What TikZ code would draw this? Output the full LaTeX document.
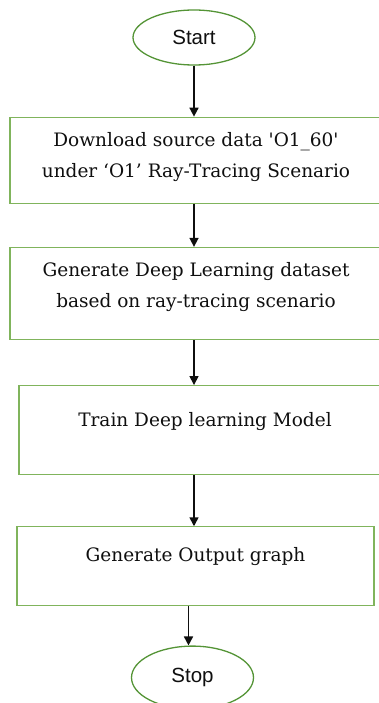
\documentclass[tikz,border=0pt]{standalone}
\usepackage{fontspec}
\setmainfont{DejaVu Serif}
\setsansfont{Liberation Sans}
\usepackage{tikz}
\usetikzlibrary{shapes.geometric, arrows.meta, positioning}
\definecolor{boxgreen}{RGB}{128,180,92}
\definecolor{ovalgreen}{RGB}{84,148,54}
\definecolor{mydark}{RGB}{15,15,15}
\tikzset{
  terminal/.style={ellipse, draw=ovalgreen, fill=white, line width=1.3pt,
    minimum width=122pt, minimum height=55pt, inner sep=0pt,
    font=\sffamily\fontsize{20.5}{24}\selectfont, text=mydark},
  process/.style={rectangle, draw=boxgreen, fill=white, line width=1.2pt,
    align=center, inner sep=0pt, text=mydark,
    font=\fontsize{18.5}{31}\selectfont},
  arrow/.style={-{Triangle[length=9pt,width=9pt]}, line width=1.6pt, color=mydark}
}

\begin{document}
\begin{tikzpicture}[x=1pt, y=1pt, node distance=45pt]
  \useasboundingbox (0,0) rectangle (379,-703);

  \node[terminal] (start) at (194,-37.5) {Start};
  % text depth lifts the label a little above the box centre
  \node[process, minimum width=372pt, minimum height=86pt, text depth=11pt,
    below=51pt of start, xshift=2pt] (dl)
    {Download source data \textquotesingle O1\_60\textquotesingle\\ under `O1' Ray-Tracing Scenario};
  \node[process, minimum width=372pt, minimum height=92pt, text depth=17pt,
    below=43pt of dl] (gen)
    {Generate Deep Learning dataset\\ based on ray-tracing scenario};
  \node[process, minimum width=372pt, minimum height=89pt, text depth=22pt,
    below=45pt of gen, xshift=9pt] (train) {Train Deep learning Model};
  \node[process, minimum width=357pt, minimum height=79pt, text depth=23pt,
    below=51pt of train, xshift=-9.5pt] (out) {Generate Output graph};
  \node[terminal, minimum height=63pt, below=39pt of out, xshift=-3pt] (stop) {Stop};

  \draw[arrow] (start) -- (start |- dl.north);
  \draw[arrow] (dl.south -| start) -- (start |- gen.north);
  \draw[arrow] (gen.south -| start) -- (start |- train.north);
  \draw[arrow] (train.south -| start) -- (start |- out.north);
  \draw[arrow] ([xshift=-4pt]out.south -| stop) -- ([xshift=-4pt]stop.north);
\end{tikzpicture}
\end{document}
